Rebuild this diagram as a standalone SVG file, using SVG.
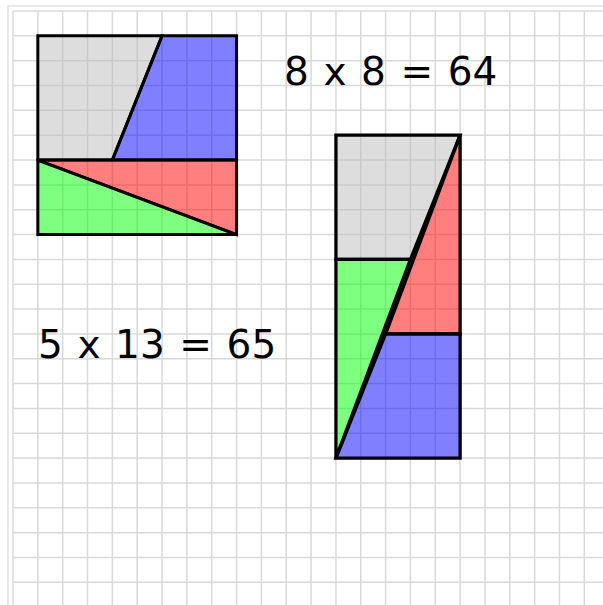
<svg xmlns="http://www.w3.org/2000/svg" width="603" height="605" viewBox="0 0 603 605">
<style>
.grid line{stroke:#d9d9d9;stroke-width:1.5}
.piece{stroke:#000;stroke-width:3;stroke-linejoin:miter;fill-opacity:0.5}
#rectangle .piece{stroke-width:3.3}
.gray{fill:#bbbbbb}
.red{fill:#ff0000}
.green{fill:#00ff00}
.blue{fill:#0000ff}
.lbl{font-family:"DejaVu Sans","Verdana",sans-serif;font-size:39px;word-spacing:2.2px;fill:#000}
</style>
<rect x="0" y="0" width="603" height="605" fill="#fff"/>
<rect x="8" y="6" width="620" height="620" fill="none" stroke="#e2e2e2" stroke-width="1.5"/>
<g class="grid" id="grid">
<line x1="13" y1="11" x2="13" y2="605"/>
<line x1="37.84" y1="11" x2="37.84" y2="605"/>
<line x1="62.68" y1="11" x2="62.68" y2="605"/>
<line x1="87.52" y1="11" x2="87.52" y2="605"/>
<line x1="112.36" y1="11" x2="112.36" y2="605"/>
<line x1="137.2" y1="11" x2="137.2" y2="605"/>
<line x1="162.04" y1="11" x2="162.04" y2="605"/>
<line x1="186.88" y1="11" x2="186.88" y2="605"/>
<line x1="211.72" y1="11" x2="211.72" y2="605"/>
<line x1="236.56" y1="11" x2="236.56" y2="605"/>
<line x1="261.4" y1="11" x2="261.4" y2="605"/>
<line x1="286.24" y1="11" x2="286.24" y2="605"/>
<line x1="311.08" y1="11" x2="311.08" y2="605"/>
<line x1="335.92" y1="11" x2="335.92" y2="605"/>
<line x1="360.76" y1="11" x2="360.76" y2="605"/>
<line x1="385.6" y1="11" x2="385.6" y2="605"/>
<line x1="410.44" y1="11" x2="410.44" y2="605"/>
<line x1="435.28" y1="11" x2="435.28" y2="605"/>
<line x1="460.12" y1="11" x2="460.12" y2="605"/>
<line x1="484.96" y1="11" x2="484.96" y2="605"/>
<line x1="509.8" y1="11" x2="509.8" y2="605"/>
<line x1="534.64" y1="11" x2="534.64" y2="605"/>
<line x1="559.48" y1="11" x2="559.48" y2="605"/>
<line x1="584.32" y1="11" x2="584.32" y2="605"/>
<line x1="13" y1="11" x2="603" y2="11"/>
<line x1="13" y1="35.84" x2="603" y2="35.84"/>
<line x1="13" y1="60.68" x2="603" y2="60.68"/>
<line x1="13" y1="85.52" x2="603" y2="85.52"/>
<line x1="13" y1="110.36" x2="603" y2="110.36"/>
<line x1="13" y1="135.2" x2="603" y2="135.2"/>
<line x1="13" y1="160.04" x2="603" y2="160.04"/>
<line x1="13" y1="184.88" x2="603" y2="184.88"/>
<line x1="13" y1="209.72" x2="603" y2="209.72"/>
<line x1="13" y1="234.56" x2="603" y2="234.56"/>
<line x1="13" y1="259.4" x2="603" y2="259.4"/>
<line x1="13" y1="284.24" x2="603" y2="284.24"/>
<line x1="13" y1="309.08" x2="603" y2="309.08"/>
<line x1="13" y1="333.92" x2="603" y2="333.92"/>
<line x1="13" y1="358.76" x2="603" y2="358.76"/>
<line x1="13" y1="383.6" x2="603" y2="383.6"/>
<line x1="13" y1="408.44" x2="603" y2="408.44"/>
<line x1="13" y1="433.28" x2="603" y2="433.28"/>
<line x1="13" y1="458.12" x2="603" y2="458.12"/>
<line x1="13" y1="482.96" x2="603" y2="482.96"/>
<line x1="13" y1="507.8" x2="603" y2="507.8"/>
<line x1="13" y1="532.64" x2="603" y2="532.64"/>
<line x1="13" y1="557.48" x2="603" y2="557.48"/>
<line x1="13" y1="582.32" x2="603" y2="582.32"/>
</g>
<g id="square">
<polygon id="sq-gray" class="piece gray" points="37.84,35.84 162.04,35.84 112.36,160.04 37.84,160.04"/>
<polygon id="sq-blue" class="piece blue" points="162.04,35.84 236.56,35.84 236.56,160.04 112.36,160.04"/>
<polygon id="sq-red" class="piece red" points="37.84,160.04 236.56,160.04 236.56,234.56"/>
<polygon id="sq-green" class="piece green" points="37.84,160.04 236.56,234.56 37.84,234.56"/>
</g>
<g id="rectangle">
<polygon id="rc-gray" class="piece gray" points="335.92,135.2 460.12,135.2 410.44,259.4 335.92,259.4"/>
<polygon id="rc-red" class="piece red" points="460.12,135.2 460.12,333.92 385.6,333.92"/>
<polygon id="rc-green" class="piece green" points="335.92,259.4 410.44,259.4 335.92,458.12"/>
<polygon id="rc-blue" class="piece blue" points="385.6,333.92 460.12,333.92 460.12,458.12 335.92,458.12"/>
</g>
<g id="labels">
<text class="lbl" x="284" y="85">8 x 8 = 64</text>
<text class="lbl" x="38" y="357.7">5 x 13 = 65</text>
</g>
</svg>
